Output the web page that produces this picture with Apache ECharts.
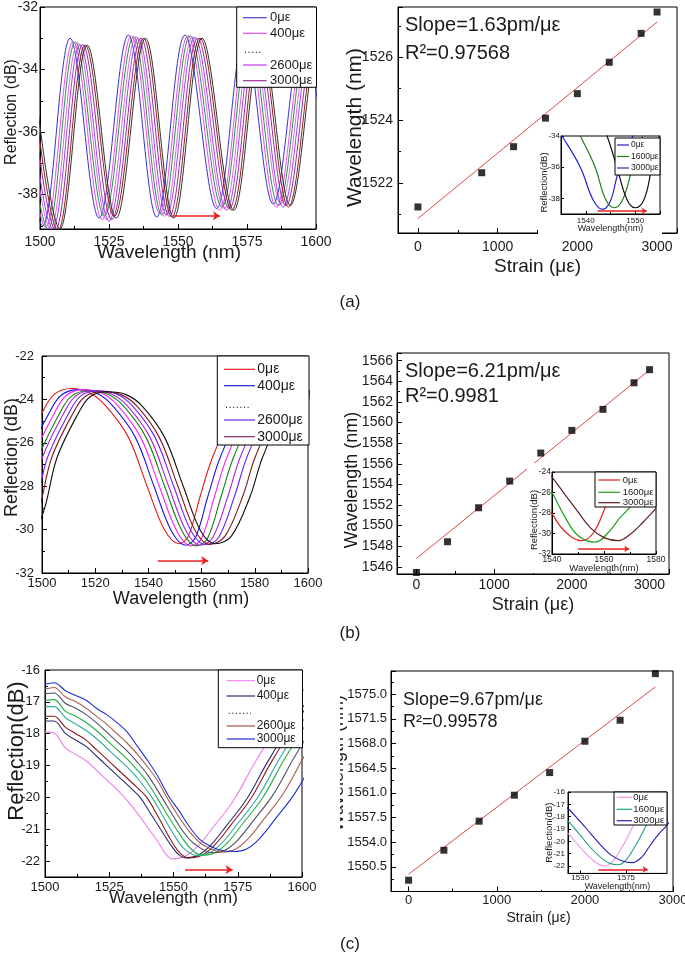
<!DOCTYPE html>
<html><head><meta charset="utf-8">
<script src="https://cdn.jsdelivr.net/npm/echarts@6/dist/echarts.min.js"></script>
<style>html,body{margin:0;padding:0;background:#fff}#c{width:685px;height:960px}</style>
</head><body><div id="c"></div>
<script>
const FONT = '"Liberation Sans", Arial, Helvetica, sans-serif';
const TXT = '#1a1a1a';

// ---------------- (a) ----------------
const specA = [
 [[1490.4,-33.0],[1501,-39.0],[1510.9,-33.0],[1521.4,-38.75],[1532,-32.9],[1542.3,-38.72],[1552.5,-32.9],[1564,-38.45],[1574,-32.95],[1584.5,-38.3],[1595,-33.0],[1605.5,-38.3]],
 [[1491.5,-33.1],[1502.1,-39.05],[1512,-33.1],[1522.5,-38.8],[1533.1,-32.92],[1543.4,-38.6],[1553.6,-32.92],[1565.1,-38.5],[1575.1,-32.95],[1585.6,-38.4],[1596.1,-33.0],[1606.6,-38.3]],
 [[1492.3,-33.1],[1502.9,-39.1],[1512.8,-33.12],[1523.3,-38.7],[1533.9,-32.95],[1544.2,-38.65],[1554.4,-32.92],[1565.9,-38.4],[1575.9,-32.95],[1586.4,-38.35],[1596.9,-33.0],[1607.4,-38.3]],
 [[1493.2,-33.15],[1503.8,-39.1],[1513.7,-33.15],[1524.2,-38.8],[1534.8,-32.95],[1545.1,-38.7],[1555.3,-32.95],[1566.8,-38.45],[1576.8,-33.0],[1587.3,-38.3],[1597.8,-33.0],[1608.3,-38.3]],
 [[1494,-33.2],[1504.6,-39.1],[1514.5,-33.2],[1525,-38.85],[1535.6,-33.0],[1545.9,-38.65],[1556.1,-32.97],[1567.6,-38.5],[1577.6,-33.0],[1588.1,-38.4],[1598.6,-33.0],[1609.1,-38.3]],
 [[1495,-33.2],[1505.6,-39.12],[1515.5,-33.2],[1526,-38.8],[1536.6,-33.0],[1546.9,-38.7],[1557.1,-33.0],[1568.6,-38.45],[1578.6,-33.0],[1589.1,-38.35],[1599.6,-33.0],[1610.1,-38.3]],
 [[1495.9,-33.25],[1506.5,-39.15],[1516.4,-33.22],[1526.9,-38.7],[1537.5,-33.0],[1547.8,-38.72],[1558,-33.0],[1569.5,-38.5],[1579.5,-33.0],[1590,-38.4],[1600.5,-33.0],[1611,-38.3]],
 [[1496.6,-33.25],[1507.2,-39.1],[1517.1,-33.22],[1527.6,-38.75],[1538.2,-33.0],[1548.5,-38.75],[1558.7,-33.0],[1570.2,-38.5],[1580.2,-33.05],[1590.7,-38.35],[1601.2,-33.0],[1611.7,-38.3]]
];
const specAColors = ['#3434c8','#f048f0','#2e8b4e','#d070d8','#a040f0','#9a2a9a','#8a2020','#303030'];
const legendAColors = ['#4040c8','#f050f0','#c038f0','#9a309a'];
const strainA = [0, 800, 1200, 1600, 2000, 2400, 2800, 3000];
const waveA = [1521.23, 1522.32, 1523.15, 1524.06, 1524.84, 1525.84, 1526.76, 1527.44];
const fitStrainA = [0, 3000];
const fitWaveA = [1520.86, 1527.12];
const insetA = [
 [[1533.5,-33.2],[1535.2,-34],[1538.9,-36],[1541.5,-38.1],[1543.4,-38.7],[1545,-38.15],[1546.5,-36.4],[1549.5,-34],[1551,-33.2]],
 [[1537.5,-33.2],[1538.9,-34],[1541.9,-36],[1544,-38.05],[1545.8,-38.6],[1547.5,-38.05],[1549.3,-36.2],[1551.5,-34],[1553,-33.2]],
 [[1543,-33.2],[1544.3,-34],[1546.3,-36],[1548.3,-38.05],[1550,-38.6],[1551.8,-38.05],[1553.3,-36.1],[1554.9,-34],[1556,-33.2]]
];
const insetAColors = ['#2020d0','#208020','#101010'];
const insetALegendColors = ['#2020d0','#208020','#303090'];
const arrowA = [1548.3, 1565.2, -38.68];
const arrowInsetA = [1542.4, 1552.3, -38.8];

// ---------------- (b) ----------------
const specB = [
 [[1478,-30.65],[1486,-29.5],[1492,-26.7],[1500,-24.63],[1504.5,-23.78],[1511,-23.5],[1518,-23.7],[1524,-24.3],[1532.5,-25.75],[1539.5,-28.0],[1546,-30.0],[1551.5,-30.65],[1555,-30.3],[1559.5,-28.45],[1564.5,-26.55],[1574,-24.3],[1589,-23.6],[1605,-24.2]],
 [[1480.6,-30.72],[1488.6,-29.5],[1494.6,-26.7],[1502.6,-24.65],[1507.1,-23.82],[1513.6,-23.55],[1520.6,-23.72],[1526.6,-24.3],[1535.1,-25.75],[1542.1,-28.0],[1548.6,-30.05],[1554.1,-30.72],[1557.75,-30.35],[1562.4,-28.45],[1567.4,-26.55],[1576.9,-24.3],[1591.9,-23.6],[1607.9,-24.2]],
 [[1482.6,-30.75],[1490.6,-29.5],[1496.6,-26.7],[1504.6,-24.65],[1509.1,-23.82],[1515.6,-23.55],[1522.6,-23.72],[1528.6,-24.3],[1537.1,-25.75],[1544.1,-28.0],[1550.6,-30.05],[1556.1,-30.75],[1560,-30.4],[1564.9,-28.45],[1569.9,-26.55],[1579.4,-24.3],[1594.4,-23.6],[1610.4,-24.2]],
 [[1484.6,-30.75],[1492.6,-29.5],[1498.6,-26.7],[1506.6,-24.65],[1511.1,-23.85],[1517.6,-23.6],[1524.6,-23.75],[1530.6,-24.3],[1539.1,-25.75],[1546.1,-28.0],[1552.6,-30.05],[1558.1,-30.75],[1562.25,-30.4],[1567.4,-28.45],[1572.4,-26.55],[1581.9,-24.3],[1596.9,-23.6],[1612.9,-24.2]],
 [[1486.1,-30.72],[1494.1,-29.5],[1500.1,-26.7],[1508.1,-24.65],[1512.6,-23.85],[1519.1,-23.6],[1526.1,-23.75],[1532.1,-24.3],[1540.6,-25.75],[1547.6,-28.0],[1554.1,-30.05],[1559.6,-30.72],[1564.25,-30.35],[1569.9,-28.45],[1574.9,-26.55],[1584.4,-24.3],[1599.4,-23.6],[1615.4,-24.2]],
 [[1488,-30.7],[1496,-29.5],[1502,-26.7],[1510,-24.65],[1514.5,-23.85],[1521,-23.6],[1528,-23.75],[1534,-24.3],[1542.5,-25.75],[1549.5,-28.0],[1556,-30.05],[1561.5,-30.7],[1566.45,-30.35],[1572.4,-28.45],[1577.4,-26.55],[1586.9,-24.3],[1601.9,-23.6],[1617.9,-24.2]],
 [[1489.6,-30.68],[1497.6,-29.5],[1503.6,-26.7],[1511.6,-24.65],[1516.1,-23.88],[1522.6,-23.65],[1529.6,-23.78],[1535.6,-24.3],[1544.1,-25.75],[1551.1,-28.0],[1557.6,-30.05],[1563.1,-30.68],[1568.8,-30.3],[1575.5,-28.45],[1580.5,-26.55],[1590,-24.3],[1605,-23.6],[1621,-24.2]],
 [[1491.6,-30.65],[1499.6,-29.5],[1505.6,-26.7],[1513.6,-24.65],[1518.1,-23.88],[1524.6,-23.65],[1531.6,-23.78],[1537.6,-24.3],[1546.1,-25.75],[1553.1,-28.0],[1559.6,-30.05],[1565.1,-30.65],[1571.2,-30.3],[1578.3,-28.45],[1583.3,-26.55],[1592.8,-24.3],[1607.8,-23.6],[1623.8,-24.2]]
];
const specBColors = ['#e81818','#1818e0','#ff20ff','#108010','#b020d0','#7020ff','#801818','#101010'];
const legendBColors = ['#e82020','#2020d0','#7028e8','#802870'];
const strainB = [0, 400, 800, 1200, 1600, 2000, 2400, 2800, 3000];
const waveB = [1545.45, 1548.43, 1551.73, 1554.32, 1557.04, 1559.24, 1561.28, 1563.86, 1565.13];
const fitStrainB = [0, 3000];
const fitWaveB = [1546.81, 1565.1];
const insetB = [
 [[1536,-26.3],[1540,-28.05],[1545,-29.8],[1551.4,-30.7],[1556,-29.9],[1560.6,-27.4],[1565,-25.0],[1569,-23.2]],
 [[1536,-24.6],[1540,-26.0],[1545,-28.4],[1550,-30.2],[1556.5,-30.85],[1562,-29.8],[1566,-28.5],[1570,-27.4],[1575,-25.2],[1580,-23.5]],
 [[1536,-23.4],[1540,-24.5],[1545,-26.2],[1550,-27.9],[1555,-29.5],[1560,-30.4],[1565.5,-30.7],[1570,-30.1],[1575,-28.9],[1580,-27.55]]
];
const insetBColors = ['#e02020','#20a020','#602020'];
const arrowB = [1543.5, 1562.5, -31.43];
const arrowInsetB = [1550.1, 1569.7, -31.5];

// ---------------- (c) ----------------
const specC = [
 [[1500,-17.95],[1503.5,-17.98],[1508,-18.45],[1512,-18.65],[1516,-18.85],[1520,-19.15],[1524,-19.45],[1528,-19.75],[1532,-20.1],[1536,-20.5],[1540,-20.95],[1544,-21.4],[1547,-21.78],[1549.5,-21.93],[1554.5,-21.85],[1559.5,-21.53],[1565.5,-20.93],[1573.5,-20.08],[1581.5,-18.93],[1591.5,-17.63],[1601.5,-16.53]],
 [[1500,-17.6],[1503.5,-17.6],[1508,-18.0],[1512,-18.2],[1516,-18.4],[1520,-18.7],[1524,-19.0],[1528,-19.3],[1532,-19.6],[1537,-20.0],[1541,-20.5],[1545,-21.0],[1549,-21.5],[1552,-21.8],[1554.5,-21.9],[1559.5,-21.82],[1564.5,-21.5],[1570.5,-20.9],[1578.5,-20.05],[1586.5,-18.9],[1596.5,-17.6],[1606.5,-16.5]],
 [[1500,-17.45],[1503.5,-17.45],[1508,-17.8],[1512,-18.0],[1516,-18.2],[1520,-18.5],[1524,-18.8],[1528,-19.1],[1532,-19.4],[1536,-19.7],[1539.6,-20.0],[1544,-20.6],[1548,-21.2],[1552,-21.7],[1556,-21.9],[1561,-21.82],[1566,-21.5],[1572,-20.9],[1580,-20.05],[1588,-18.9],[1598,-17.6],[1608,-16.5]],
 [[1500,-17.15],[1503.5,-17.15],[1508,-17.5],[1512,-17.7],[1516,-17.9],[1520,-18.15],[1524,-18.45],[1528,-18.75],[1532,-19.05],[1536,-19.4],[1541.6,-20.0],[1546,-20.6],[1550,-21.15],[1554,-21.6],[1559,-21.82],[1564,-21.74],[1569,-21.42],[1575,-20.82],[1583,-19.97],[1591,-18.82],[1601,-17.52]],
 [[1500,-16.95],[1503.5,-16.93],[1508,-17.3],[1512,-17.45],[1516,-17.65],[1520,-17.9],[1524,-18.2],[1528,-18.5],[1532,-18.8],[1536,-19.15],[1540,-19.55],[1543.5,-20.0],[1548,-20.6],[1552,-21.1],[1556,-21.55],[1561,-21.82],[1566,-21.74],[1571,-21.42],[1577,-20.82],[1585,-19.97],[1593,-18.82],[1603,-17.52]],
 [[1500,-16.75],[1503.5,-16.72],[1508,-17.05],[1512,-17.2],[1516,-17.4],[1520,-17.65],[1524,-17.95],[1528,-18.25],[1532,-18.55],[1536,-18.9],[1540,-19.3],[1545.5,-20.0],[1550,-20.6],[1554,-21.1],[1558,-21.45],[1565,-21.74],[1570,-21.66],[1575,-21.34],[1581,-20.74],[1589,-19.89],[1597,-18.74],[1607,-17.44]],
 [[1500,-16.6],[1503.5,-16.55],[1508,-16.85],[1512,-17.0],[1516,-17.2],[1520,-17.45],[1524,-17.7],[1528,-18.0],[1532,-18.3],[1536,-18.65],[1540,-19.05],[1544,-19.5],[1547.4,-20.0],[1552,-20.6],[1556,-21.05],[1560,-21.4],[1564,-21.6],[1568.8,-21.72],[1573.8,-21.64],[1578.8,-21.32],[1584.8,-20.72],[1592.8,-19.87],[1600.8,-18.72],[1610.8,-17.42]],
 [[1500,-16.45],[1503.5,-16.4],[1508,-16.65],[1512,-16.8],[1516,-16.95],[1520,-17.2],[1524,-17.4],[1528,-17.65],[1532,-17.95],[1536,-18.4],[1540,-18.85],[1544,-19.35],[1548,-19.95],[1552,-20.4],[1556,-20.9],[1560,-21.3],[1564,-21.52],[1568,-21.65],[1573.4,-21.7],[1578.4,-21.62],[1583.4,-21.3],[1589.4,-20.7],[1597.4,-19.85],[1605.4,-18.7]]
];
const specCColors = ['#f07cf0','#2c2c6c','#8b1a1a','#30a8a0','#20b040','#505060','#a8604e','#1f2fd6'];
const legendCColors = ['#f08cf0','#2c2c6c','#a05848','#2030d0'];
const strainC = [0, 400, 800, 1200, 1600, 2000, 2400, 2800];
const waveC = [1548.6, 1552.86, 1556.98, 1560.67, 1563.88, 1568.33, 1571.31, 1577.93];
const fitStrainC = [0, 2800];
const fitWaveC = [1549.46, 1576.04];
const insetC = [
 [[1510,-18.8],[1518,-19.36],[1528,-20.3],[1538,-21.2],[1546,-21.75],[1554.3,-22.0],[1562,-21.6],[1570,-20.6],[1578,-19.4],[1586,-18.0],[1594,-16.6],[1600,-15.6]],
 [[1510,-17.8],[1518,-18.34],[1530,-19.5],[1540,-20.5],[1550,-21.3],[1558,-21.75],[1567.3,-21.9],[1575,-21.5],[1583,-20.5],[1591,-19.3],[1599,-18.0],[1607,-16.7],[1615,-15.5]],
 [[1510,-16.9],[1518,-17.34],[1530,-18.4],[1540,-19.35],[1550,-20.3],[1560,-21.1],[1570,-21.55],[1581,-21.73],[1590,-21.3],[1598,-20.4],[1606,-19.5],[1615,-18.7],[1620,-18.1]]
];
const insetCColors = ['#f090f0','#20a080','#2020b0'];
const insetCTicks = [1530, 1575];
const arrowC = [1554.5, 1573, -22.27];
const arrowInsetC = [1547.7, 1596.1, -22.27];

// ---------------- texts ----------------
const legendLabels = ['0με', '400με', '2600με', '3000με'];
const insetLabels = ['0με', '1600με', '3000με'];
const slopeTexts = ['Slope=1.63pm/με', 'Slope=6.21pm/με', 'Slope=9.67pm/με'];
const r2Texts = ['R²=0.97568', 'R²=0.9981', 'R²=0.99578'];
const panelTags = ['(a)', '(b)', '(c)'];

// ---------------- helpers ----------------
function clean(o) {
  if (Array.isArray(o)) return o.map(clean);
  if (o && typeof o === 'object') {
    const r = {};
    for (const k in o) if (o[k] !== undefined) r[k] = clean(o[k]);
    return r;
  }
  return o;
}
const plain = v => String(Math.round(v * 1000) / 1000);
function axis(gi, o) {
  const tl = o.tick || 5;
  return clean({
    type: 'value', gridIndex: gi, min: o.min, max: o.max, interval: o.interval, splitNumber: o.split,
    z: o.z,
    axisLine: {show: true, onZero: false, lineStyle: {color: '#000', width: 1}},
    axisTick: {show: true, inside: true, length: tl, lineStyle: {color: '#000', width: 1}, customValues: o.custom},
    minorTick: {show: !!o.minor, splitNumber: o.minor || 2, length: Math.round(tl * 0.6), lineStyle: {color: '#000', width: 1}},
    splitLine: {show: false},
    axisLabel: {fontFamily: FONT, fontSize: o.fs, color: TXT, margin: o.margin,
      showMinLabel: o.showMin === false ? false : undefined,
      showMaxLabel: o.showMax === false ? false : undefined,
      formatter: o.fmt || plain, customValues: o.custom},
    name: o.name, nameLocation: 'middle', nameGap: o.gap, nameMoveOverlap: false,
    nameTextStyle: {fontFamily: FONT, fontSize: o.nfs, color: TXT, padding: o.pad || 0}
  });
}

const grids = [
  {left: 40, top: 7, width: 276, height: 222},
  {left: 398, top: 7, width: 279, height: 226},
  {left: 561, top: 136, width: 99, height: 78, z: 5},
  {left: 42, top: 356, width: 266, height: 217},
  {left: 397, top: 353, width: 272, height: 221},
  {left: 552, top: 472, width: 104, height: 82, z: 5},
  {left: 45, top: 670, width: 257, height: 207},
  {left: 391, top: 671, width: 282, height: 220.5},
  {left: 568, top: 792, width: 99, height: 81.4, z: 5}
].map(g => Object.assign({show: true, borderColor: '#000', borderWidth: 1, containLabel: false, outerBoundsMode: 'none'}, g));

const xAxes = [
  axis(0, {min: 1500, max: 1600, interval: 25, minor: 2, fs: 14, margin: 6, name: 'Wavelength (nm)', nfs: 19, gap: 14, pad: [0, 18, 0, 0]}),
  axis(1, {min: -250, max: 3250, split: 4, minor: 2, showMin: false, showMax: false, fs: 14, margin: 7, name: 'Strain (με)', nfs: 19, gap: 24}),
  axis(2, {min: 1535, max: 1555, split: 2, minor: 2, showMin: false, showMax: false, fs: 8, margin: 2.5, tick: 3, name: 'Wavelength(nm)', nfs: 9, gap: 10, z: 5}),
  axis(3, {min: 1500, max: 1600, interval: 20, minor: 2, fs: 13, margin: 4, name: 'Wavelength (nm)', nfs: 18, gap: 17, pad: [0, 0, 0, 12]}),
  axis(4, {min: -250, max: 3250, split: 4, minor: 2, showMin: false, showMax: false, fs: 14, margin: 4, name: 'Strain (με)', nfs: 18, gap: 22}),
  axis(5, {min: 1540, max: 1580, interval: 20, minor: 2, fs: 8.5, margin: 1.5, tick: 3, name: 'Wavelength(nm)', nfs: 9.5, gap: 9.5, z: 5}),
  axis(6, {min: 1500, max: 1600, interval: 25, minor: 2, fs: 13, margin: 3.5, name: 'Wavelength (nm)', nfs: 17, gap: 12.5}),
  axis(7, {min: -200, max: 3000, split: 3, minor: 2, showMin: false, fs: 13, margin: 2, name: 'Strain (με)', nfs: 14, gap: 19.5, pad: [0, 0, 0, 13]}),
  axis(8, {min: 1518, max: 1615, custom: insetCTicks, fs: 8, margin: 0.5, tick: 3, name: 'Wavelength(nm)', nfs: 9, gap: 8.5, z: 5})
];
const yAxes = [
  axis(0, {min: -39.1, max: -32, split: 3, minor: 2, showMin: false, fs: 14, margin: 2, name: 'Reflection (dB)', nfs: 16, gap: 20, pad: [0, 0, 0, 12]}),
  axis(1, {min: 1520.4, max: 1527.6, split: 3, minor: 2, showMin: false, showMax: false, fs: 14, margin: 5, name: 'Wavelength (nm)', nfs: 21, gap: 32, pad: [0, 15, 0, 0]}),
  axis(2, {min: -39, max: -34, split: 3, showMin: false, fs: 8, margin: 1, tick: 3, name: 'Reflection(dB)', nfs: 9.5, gap: 12, pad: [0, 15, 0, 0], z: 5}),
  axis(3, {min: -32, max: -22, interval: 2, minor: 2, fs: 13, margin: 8, name: 'Reflection (dB)', nfs: 18, gap: 21, pad: [0, 0, 0, 14]}),
  axis(4, {min: 1545.3, max: 1566.75, split: 10, minor: 2, showMin: false, showMax: false, fs: 14, margin: 4, name: 'Wavelength (nm)', nfs: 18, gap: 36, pad: [0, 33, 0, 0]}),
  axis(5, {min: -32, max: -24, interval: 2, fs: 8.5, margin: 1, tick: 3, name: 'Reflection(dB)', nfs: 9.5, gap: 13, pad: [0, 14, 0, 0], z: 5}),
  axis(6, {min: -22.5, max: -16, split: 6, minor: 2, showMin: false, fs: 13, margin: 5, name: 'Reflection(dB)', nfs: 22, gap: 17, pad: [0, 0, 0, 45]}),
  axis(7, {min: 1547, max: 1578.3, interval: 3.5, minor: 2, showMin: false, showMax: false, fmt: v => v.toFixed(1), fs: 13, margin: 4, name: 'Wavelength (nm)', nfs: 18, gap: 44, pad: [0, 0, 0, 36]}),
  axis(8, {min: -22.6, max: -16, split: 6, showMin: false, fs: 8, margin: 3, tick: 3, name: 'Reflection(dB)', nfs: 9.5, gap: 14, z: 5})
];

const series = [];
function spectra(gi, curves, colors, smooth, width, z, arrow, asize) {
  curves.forEach((c, i) => {
    const s = {type: 'line', xAxisIndex: gi, yAxisIndex: gi, data: c, showSymbol: false, smooth: smooth,
      lineStyle: {color: colors[i], width: width}, itemStyle: {color: colors[i]}, silent: true, z: z, clip: true};
    if (i === 0 && arrow) {
      s.markLine = {silent: true, symbol: ['none', 'arrow'], symbolSize: asize, animation: false,
        lineStyle: {color: '#e82020', width: 1.5, type: 'solid'}, label: {show: false},
        data: [[{coord: [arrow[0], arrow[2]]}, {coord: [arrow[1], arrow[2]]}]]};
    }
    series.push(s);
  });
}
function linear(gi, xs, ys, fx, fy) {
  series.push({type: 'line', xAxisIndex: gi, yAxisIndex: gi, data: fx.map((x, i) => [x, fy[i]]), showSymbol: false,
    lineStyle: {color: '#e04848', width: 1}, silent: true, z: 2});
  series.push({type: 'scatter', xAxisIndex: gi, yAxisIndex: gi, data: xs.map((x, i) => [x, ys[i]]), symbol: 'rect',
    symbolSize: 7, itemStyle: {color: '#000'}, silent: true, z: 3});
}
spectra(0, specA, specAColors, 0.36, 1, 2, arrowA, 7);
linear(1, strainA, waveA, fitStrainA, fitWaveA);
spectra(2, insetA, insetAColors, 0.4, 1.2, 5, arrowInsetA, 5);
spectra(3, specB, specBColors, 0.35, 1.1, 2, arrowB, 7);
linear(4, strainB, waveB, fitStrainB, fitWaveB);
spectra(5, insetB, insetBColors, 0.4, 1.2, 5, arrowInsetB, 5);
spectra(6, specC, specCColors, 0.35, 1.1, 2, arrowC, 7);
linear(7, strainC, waveC, fitStrainC, fitWaveC);
spectra(8, insetC, insetCColors, 0.4, 1.1, 5, arrowInsetC, 5);

// ---------------- graphic: legends, notes ----------------
const graphics = [];
function legend(box, rows, lx, tx, fs, labels, colors, dotRow) {
  graphics.push({type: 'rect', z: 20, silent: true, shape: {x: box[0], y: box[1], width: box[2], height: box[3]},
    style: {fill: '#fff', stroke: '#000', lineWidth: 1}});
  let li = 0;
  rows.forEach((y, r) => {
    if (r === dotRow) {
      graphics.push({type: 'line', z: 21, silent: true, shape: {x1: lx[0] + 2, y1: y, x2: lx[1] - 4, y2: y},
        style: {stroke: '#222', lineWidth: 1.2, lineDash: [1, 2.6]}});
      return;
    }
    graphics.push({type: 'line', z: 21, silent: true, shape: {x1: lx[0], y1: y, x2: lx[1], y2: y},
      style: {stroke: colors[li], lineWidth: 1.2}});
    graphics.push({type: 'text', z: 21, silent: true, x: tx, y: y, style: {text: labels[li], fontFamily: FONT, fontSize: fs, fill: TXT,
      align: 'left', verticalAlign: 'middle'}});
    li++;
  });
}
// white backgrounds behind insets
[[538, 134, 124, 101], [527, 463, 131, 110], [540, 789, 128, 101]].forEach(b => {
  graphics.push({type: 'rect', z: 4, silent: true, shape: {x: b[0], y: b[1], width: b[2], height: b[3]}, style: {fill: '#fff'}});
});
legend([236.7, 7, 79.8, 80.3], [17.7, 33.3, 52.3, 65, 80.7], [243, 266.7], 270, 13, legendLabels, legendAColors, 2);
legend([217.3, 356, 91.7, 89], [369.3, 385.7, 407.3, 420, 436.7], [224, 255], 257.3, 14, legendLabels, legendBColors, 2);
legend([218.3, 670, 84.2, 77.7], [680.7, 696, 713.3, 726, 739], [226.7, 255], 256.7, 12, legendLabels, legendCColors, 2);
legend([615, 138, 45, 37], [145, 156.5, 168], [617, 629], 631, 8.5, insetLabels, insetALegendColors, -1);
legend([595, 472, 61, 35], [480, 492.3, 502.7], [598.3, 620], 622.7, 9.5, insetLabels, insetBColors, -1);
legend([614, 792, 53, 33], [797.3, 809.3, 820.7], [616.7, 632], 633.3, 9.5, insetLabels, insetCColors, -1);

const noteY = [[25, 53], [371.7, 396], [700, 721.7]];
const noteX = [405, 405, 403];
const noteFs = [20, 20, 18];
for (let i = 0; i < 3; i++) {
  graphics.push({type: 'text', z: 20, silent: true, x: noteX[i], y: noteY[i][0],
    style: {text: slopeTexts[i], fontFamily: FONT, fontSize: noteFs[i], fill: TXT, align: 'left', verticalAlign: 'middle'}});
  graphics.push({type: 'text', z: 20, silent: true, x: noteX[i], y: noteY[i][1],
    style: {text: r2Texts[i], fontFamily: FONT, fontSize: noteFs[i], fill: TXT, align: 'left', verticalAlign: 'middle'}});
}
const tagY = [302, 633, 944];
panelTags.forEach((t, i) => graphics.push({type: 'text', z: 20, silent: true, x: 350, y: tagY[i],
  style: {text: t, fontFamily: FONT, fontSize: 17, fill: TXT, align: 'center', verticalAlign: 'middle'}}));
// crop edge of panel (c) right (its y title is cut off in the figure)
graphics.push({type: 'rect', z: 20, silent: true, shape: {x: 316, y: 690, width: 24, height: 160}, style: {fill: '#fff'}});

const chart = echarts.init(document.getElementById('c'), null, {renderer: 'canvas'});
chart.setOption({
  animation: false,
  backgroundColor: '#fff',
  grid: grids,
  xAxis: xAxes,
  yAxis: yAxes,
  series: series,
  graphic: {elements: graphics}
});
</script></body></html>
